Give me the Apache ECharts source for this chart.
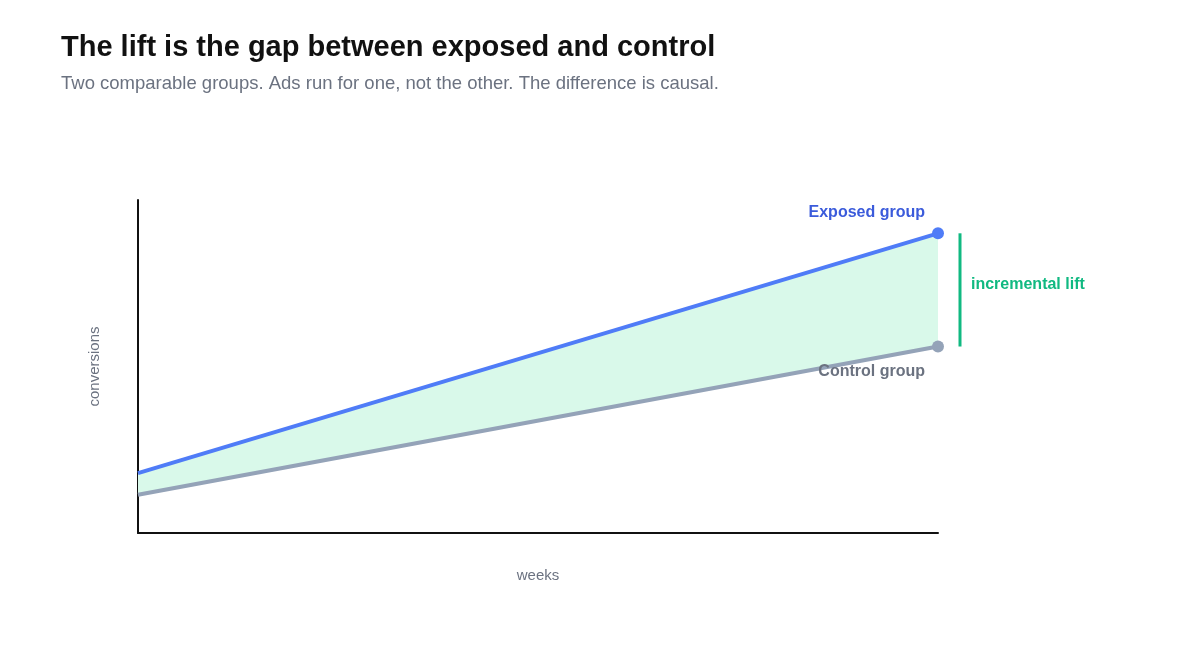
<!DOCTYPE html>
<html>
<head>
<meta charset="utf-8">
<script src="https://cdn.jsdelivr.net/npm/echarts@6/dist/echarts.min.js"></script>
<style>
  html, body { margin: 0; padding: 0; background: #fff; }
  #main { width: 1200px; height: 667px; }
</style>
</head>
<body>
<div id="main"></div>
<script>
// start and end of the test period
var weeks = ['start', 'end'];
var exposed = [18, 90];
var control = [11.5, 56];

var gap = exposed.map(function (v, i) { return v - control[i]; });

var font = 'Helvetica, Arial, "Liberation Sans", sans-serif';
var myChart = echarts.init(document.getElementById('main'));

myChart.setOption({
  animation: false,
  title: {
    text: 'The lift is the gap between exposed and control',
    subtext: 'Two comparable groups. Ads run for one, not the other. The difference is causal.',
    left: 56,
    top: 28,
    itemGap: 12,
    textStyle: { fontFamily: font, fontSize: 29, fontWeight: 'bold', color: '#111' },
    subtextStyle: { fontFamily: font, fontSize: 18.5, color: '#6b7280' }
  },
  grid: { left: 138, right: 262, top: 200, bottom: 134 },
  xAxis: {
    type: 'category',
    data: weeks,
    boundaryGap: false,
    name: 'weeks',
    nameLocation: 'middle',
    nameGap: 35,
    nameTextStyle: { fontFamily: font, fontSize: 15, color: '#6b7280' },
    axisLine: { lineStyle: { color: '#111', width: 2 } },
    axisTick: { show: false },
    axisLabel: { show: false }
  },
  yAxis: {
    type: 'value',
    min: 0,
    max: 100,
    name: 'conversions',
    nameLocation: 'middle',
    nameGap: 36,
    nameTextStyle: { fontFamily: font, fontSize: 15, color: '#6b7280' },
    axisLine: { show: true, lineStyle: { color: '#111', width: 2 } },
    axisTick: { show: false },
    axisLabel: { show: false },
    splitLine: { show: false }
  },
  series: [
    {
      type: 'line', stack: 'gap', data: control,
      symbol: 'none', lineStyle: { opacity: 0 }, silent: true
    },
    {
      type: 'line', stack: 'gap', data: gap,
      symbol: 'none', lineStyle: { opacity: 0 },
      areaStyle: { color: '#d9f9ea', opacity: 1 }, silent: true
    },
    {
      name: 'Exposed group', type: 'line', data: exposed,
      lineStyle: { color: '#4f7cf7', width: 4 },
      itemStyle: { color: '#4f7cf7' },
      symbol: 'circle',
      symbolSize: function (v, p) { return p.dataIndex === exposed.length - 1 ? 12 : 0; },
      label: {
        show: true, position: 'left', distance: 7, offset: [0, -21],
        formatter: function (p) { return p.dataIndex === exposed.length - 1 ? 'Exposed group' : ''; },
        fontFamily: font, fontSize: 16, fontWeight: 'bold', color: '#3b5bdb'
      },
      z: 4
    },
    {
      name: 'Control group', type: 'line', data: control,
      lineStyle: { color: '#94a3b8', width: 4 },
      itemStyle: { color: '#94a3b8' },
      symbol: 'circle',
      symbolSize: function (v, p) { return p.dataIndex === control.length - 1 ? 12 : 0; },
      label: {
        show: true, position: 'left', distance: 7, offset: [0, 25],
        formatter: function (p) { return p.dataIndex === control.length - 1 ? 'Control group' : ''; },
        fontFamily: font, fontSize: 16, fontWeight: 'bold', color: '#6b7280'
      },
      z: 3
    }
  ]
});

// bracket showing the lift at the last week
var last = weeks.length - 1;
var hiPt = myChart.convertToPixel({ gridIndex: 0 }, [last, exposed[last]]);
var loPt = myChart.convertToPixel({ gridIndex: 0 }, [last, control[last]]);
myChart.setOption({
  graphic: [
    {
      type: 'line',
      shape: { x1: hiPt[0] + 22, y1: hiPt[1], x2: loPt[0] + 22, y2: loPt[1] },
      style: { stroke: '#10b981', lineWidth: 3 }
    },
    {
      type: 'text',
      x: hiPt[0] + 33,
      y: (hiPt[1] + loPt[1]) / 2 - 5,
      style: {
        text: 'incremental lift', fill: '#10b981',
        font: 'bold 16px ' + font, textVerticalAlign: 'middle'
      }
    }
  ]
});
</script>
</body>
</html>
